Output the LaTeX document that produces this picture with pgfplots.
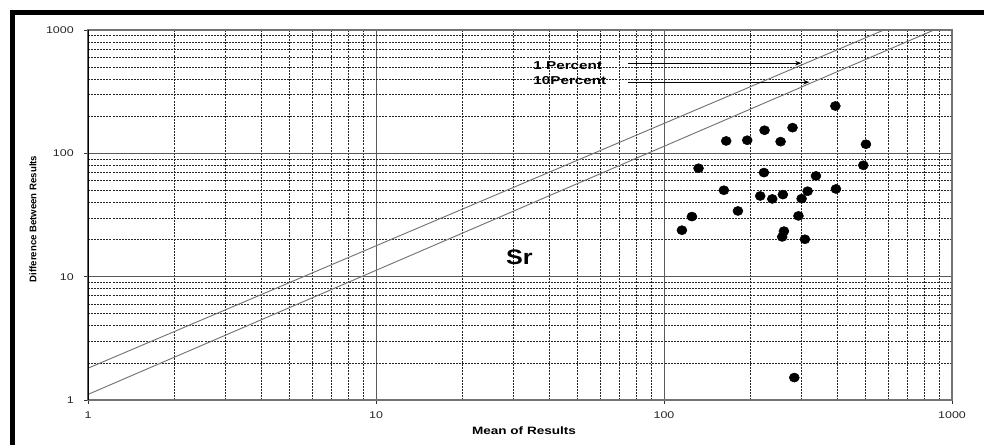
\documentclass[border=0pt]{standalone}
\usepackage{fontspec}
\setmainfont{Liberation Sans}
\usepackage{pgfplots}
\pgfplotsset{compat=1.18}
\usetikzlibrary{arrows.meta}
\begin{document}
\begin{tikzpicture}
\useasboundingbox (0,0) rectangle (738pt,333.75pt);
\fill[black] (7.5pt,0) rectangle (11.25pt,326.25pt);
\fill[black] (7.5pt,322.5pt) rectangle (738pt,326.25pt);
\begin{axis}[
  at={(66pt,33.75pt)}, anchor=south west,
  scale only axis, width=648pt, height=277.5pt,
  xmode=log, ymode=log,
  xmin=1, xmax=1000, ymin=1, ymax=1000,
  xtick={1,10,100,1000}, xticklabels={1,10,100,1000},
  ytick={1,10,100,1000}, yticklabels={1,10,100,1000},
  grid=both,
  major grid style={black!65, line width=0.7pt},
  minor grid style={black!85, line width=0.45pt, dash pattern=on 1.5pt off 0.8pt},
  axis line style={black!55, line width=0.8pt},
  tick align=outside, major tick length=3pt, minor tick length=0pt,
  xtick pos=bottom, ytick pos=left,
  tick style={black!80, line width=0.6pt},
  tick label style={font=\fontsize{7.3}{8}\selectfont, text=black!85, xscale=1.28},
  yticklabel style={xshift=-2.5pt},
  xticklabel style={yshift=-2pt},
  /pgf/number format/assume math mode=true,
]
\addplot[black!55, line width=0.7pt] coordinates {(1,1.81) (580,1000)};
\addplot[black!55, line width=0.7pt] coordinates {(1,1.11) (866,1000)};
\addplot[only marks, mark=*, mark size=3.4pt, mark options={xscale=1.1, fill=black, draw=black}] coordinates {
(393.6,242) (164.4,126) (194.5,127.7) (223.4,153.9) (254,124.4) (279.4,161.5)
(502.5,118.5) (492,80) (131.8,75.7) (222.3,69.8) (337,65.6) (161.4,50.2)
(395.4,51.4) (315.3,49.3) (215.8,45.1) (237.6,42.7) (258.6,46.3) (300.5,42.9)
(180.6,34.1) (125,30.7) (293,31.1) (115.4,23.8) (260.9,23.4) (257.2,21.0)
(308.5,20.1) (283.4,1.52)
};
\draw[black, line width=0.9pt, -{Stealth[length=4.5pt,width=3.5pt]}] (axis cs:75.1,538) -- (axis cs:299.7,538);
\draw[black, line width=0.9pt, -{Stealth[length=4.5pt,width=3.5pt]}] (axis cs:75.1,377.4) -- (axis cs:319.5,377.4);
\node[anchor=west, inner sep=0pt, font=\bfseries\fontsize{8.6}{9}\selectfont, xscale=1.33] at (axis cs:35.1,511) {1 Percent};
\node[anchor=west, inner sep=0pt, font=\bfseries\fontsize{8.6}{9}\selectfont, xscale=1.33] at (axis cs:35.1,389) {10Percent};
\node[inner sep=0pt, font=\bfseries\fontsize{15.7}{17}\selectfont, xscale=1.2] at (axis cs:31.45,14.26) {Sr};
\draw[black, line width=1.1pt] (rel axis cs:0,0) -- (rel axis cs:0,1);
\end{axis}
\node[rotate=90, inner sep=0pt, font=\bfseries\fontsize{7.2}{8}\selectfont] at (24.75pt,169.5pt) {Difference Between Results};
\node[inner sep=0pt, font=\bfseries\fontsize{8}{9}\selectfont, xscale=1.27] at (393pt,10.5pt) {Mean of Results};
\end{tikzpicture}
\end{document}
